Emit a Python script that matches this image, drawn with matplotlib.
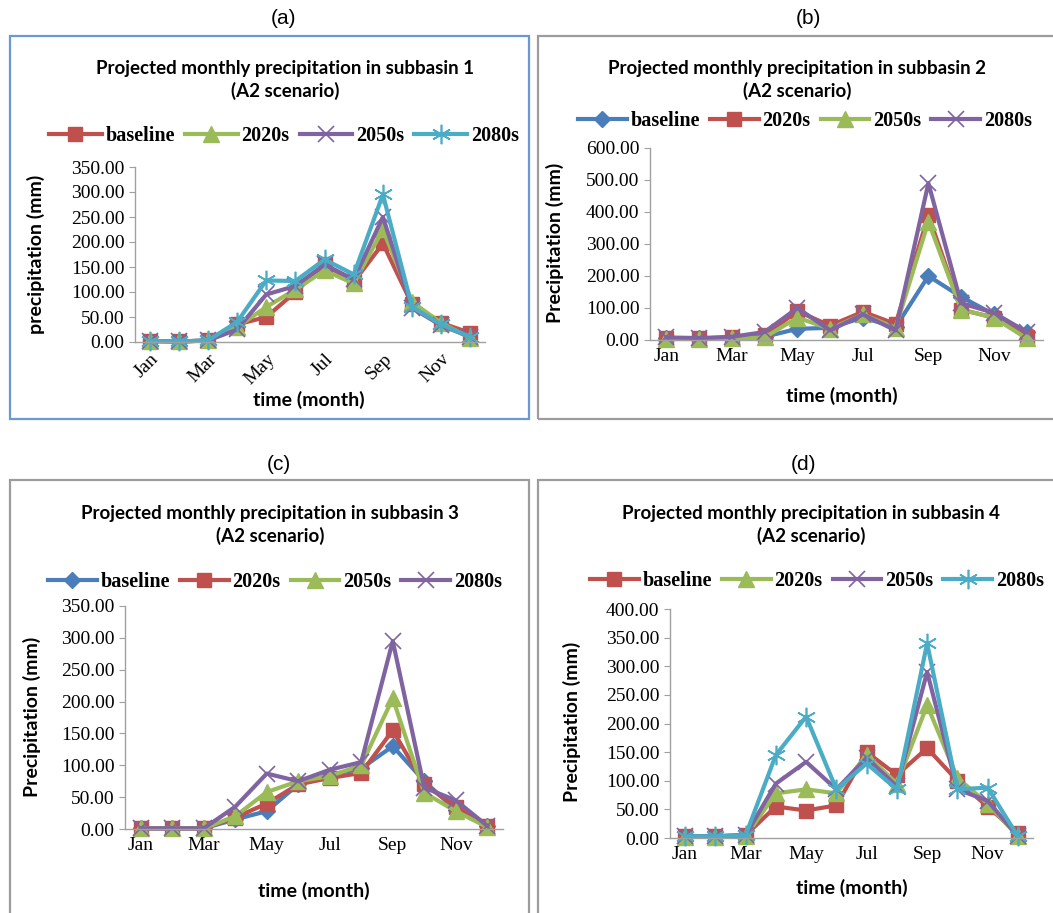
import matplotlib
matplotlib.use("Agg")
import matplotlib.pyplot as plt
from matplotlib.patches import Rectangle
from matplotlib.ticker import FormatStrFormatter

W, H = 1053, 913

MONTHS = ["Jan", "Feb", "Mar", "Apr", "May", "Jun",
          "Jul", "Aug", "Sep", "Oct", "Nov", "Dec"]

# subbasin 1
s1_baseline = [2, 1, 3, 35, 50, 100, 155, 120, 197, 75, 38, 18]
s1_2020s = [2, 1, 3, 30, 70, 105, 143, 117, 225, 80, 38, 8]
s1_2050s = [2, 1, 3, 25, 95, 112, 155, 125, 250, 68, 33, 10]
s1_2080s = [2, 1, 3, 40, 123, 122, 165, 135, 295, 70, 35, 10]

# subbasin 2
s2_baseline = [5, 5, 5, 10, 35, 38, 70, 40, 200, 135, 80, 25]
s2_2020s = [5, 5, 8, 15, 90, 45, 88, 50, 390, 95, 70, 10]
s2_2050s = [3, 3, 5, 8, 70, 35, 80, 38, 370, 95, 70, 5]
s2_2080s = [8, 6, 10, 25, 100, 30, 80, 30, 490, 115, 85, 25]

# subbasin 3
s3_baseline = [1, 1, 1, 15, 28, 70, 85, 95, 130, 75, 30, 5]
s3_2020s = [1, 1, 1, 18, 40, 70, 80, 88, 155, 70, 35, 5]
s3_2050s = [1, 1, 1, 20, 58, 75, 83, 100, 205, 57, 28, 3]
s3_2080s = [1, 1, 1, 35, 87, 75, 93, 105, 295, 65, 45, 5]

# subbasin 4
s4_baseline = [3, 3, 5, 55, 48, 57, 150, 110, 157, 100, 55, 8]
s4_2020s = [2, 2, 3, 78, 85, 78, 145, 95, 232, 105, 60, 3]
s4_2050s = [3, 3, 5, 95, 133, 85, 140, 90, 290, 85, 65, 3]
s4_2080s = [3, 3, 5, 145, 212, 85, 130, 85, 340, 85, 88, 3]

BLUE, RED, GREEN, PURPLE, CYAN = "#4A7EBB", "#C0504D", "#9BBB59", "#8064A2", "#4BACC6"
STAR = (6, 2, 0)

SANS = "Lato"
SERIF = "Liberation Serif"


def fx(x):
    return x / W


def fy(y):
    return 1 - y / H


def box(fig, x0, y0, x1, y1, color):
    r = Rectangle((fx(x0), fy(y1)), fx(x1) - fx(x0), fy(y0) - fy(y1),
                  transform=fig.transFigure, fill=False, edgecolor=color, lw=1.6)
    fig.add_artist(r)


def panel(fig, cfg):
    x0, y0, x1, y1 = cfg["axes"]
    ax = fig.add_axes([fx(x0), fy(y1), fx(x1) - fx(x0), fy(y0) - fy(y1)])
    x = list(range(1, 13))
    handles = []
    for vals, label, color, marker, ms, mew in cfg["series"]:
        h, = ax.plot(x, vals, color=color, lw=3.0, marker=marker, ms=ms,
                     markeredgewidth=mew, label=label, clip_on=False)
        handles.append(h)
    ax.set_xlim(0.5, 12.5)
    ax.set_ylim(0, cfg["ymax"])
    ax.set_yticks(list(range(0, cfg["ymax"] + 1, cfg["ystep"])))
    ax.yaxis.set_major_formatter(FormatStrFormatter("%.2f"))
    ax.set_xticks(x[::2])
    ax.set_xticklabels(MONTHS[::2])
    for s in ["top", "right"]:
        ax.spines[s].set_visible(False)
    for s in ["left", "bottom"]:
        ax.spines[s].set_color("#A0A0A0")
        ax.spines[s].set_linewidth(1.0)
    ax.tick_params(axis="y", colors="#A0A0A0", length=4, labelcolor="black",
                   labelsize=14)
    ax.tick_params(axis="x", length=0, labelsize=14, pad=6)
    for t in ax.get_xticklabels() + ax.get_yticklabels():
        t.set_fontfamily(SERIF)
    if cfg.get("rotate"):
        for t in ax.get_xticklabels():
            t.set_rotation(45)
            t.set_ha("right")
            t.set_va("top")
            t.set_rotation_mode("anchor")

    tx, ty = cfg["title"]
    fig.text(fx(tx), fy(ty), cfg["title_text"], ha="center", va="center",
             fontsize=13.5, fontweight="bold", family=SANS, linespacing=1.35)
    lx, ly = cfg["legend"]
    ax.legend(handles=handles, loc="center", bbox_to_anchor=(fx(lx), fy(ly)),
              bbox_transform=fig.transFigure, ncol=4, frameon=False,
              handlelength=cfg.get("hl", 2.4), columnspacing=0.5, handletextpad=0.2,
              prop={"family": SERIF, "weight": "bold", "size": 14.5})
    xl, yl = cfg["xlabel"]
    fig.text(fx(xl), fy(yl), "time (month)", ha="center", va="center",
             fontsize=14, fontweight="bold", family=SANS)
    yx, yy = cfg["ylabel"]
    fig.text(fx(yx), fy(yy), cfg["ylabel_text"], ha="center", va="center",
             rotation=90, fontsize=14, fontweight="bold", family=SANS)
    return ax


fig = plt.figure(figsize=(W / 100, H / 100), dpi=100)

box(fig, 9.5, 36, 529, 419, "#6A98D4")
box(fig, 538, 36, 1070, 419, "#9C9C9C")
box(fig, 9.5, 480, 529, 930, "#9C9C9C")
box(fig, 538, 480, 1070, 930, "#9C9C9C")

for lab, px, py in [("(a)", 284, 18), ("(b)", 808, 18), ("(c)", 279, 465), ("(d)", 803, 465)]:
    fig.text(fx(px), fy(py), lab, ha="center", va="center", fontsize=15,
             family="Liberation Sans")

panel(fig, {
    "axes": (135, 167, 485, 342),
    "ymax": 350, "ystep": 50, "rotate": True,
    "series": [
        (s1_baseline, "baseline", RED, "s", 10, 1),
        (s1_2020s, "2020s", GREEN, "^", 11, 1),
        (s1_2050s, "2050s", PURPLE, "x", 11, 1.2),
        (s1_2080s, "2080s", CYAN, STAR, 14, 1.2),
    ],
    "title": (285, 80),
    "title_text": "Projected monthly precipitation in subbasin 1\n(A2 scenario)",
    "legend": (284, 136), "hl": 2.6,
    "xlabel": (309, 400),
    "ylabel": (36, 254), "ylabel_text": "precipitation (mm)",
})

panel(fig, {
    "axes": (650, 148, 1043, 340),
    "ymax": 600, "ystep": 100,
    "series": [
        (s2_baseline, "baseline", BLUE, "D", 8, 1),
        (s2_2020s, "2020s", RED, "s", 10, 1),
        (s2_2050s, "2050s", GREEN, "^", 11, 1),
        (s2_2080s, "2080s", PURPLE, "x", 11, 1.2),
    ],
    "title": (797, 80),
    "title_text": "Projected monthly precipitation in subbasin 2\n(A2 scenario)",
    "legend": (805, 121),
    "xlabel": (842, 396),
    "ylabel": (555, 243), "ylabel_text": "Precipitation (mm)",
})

panel(fig, {
    "axes": (125, 606, 503, 829),
    "ymax": 350, "ystep": 50,
    "series": [
        (s3_baseline, "baseline", BLUE, "D", 8, 1),
        (s3_2020s, "2020s", RED, "s", 10, 1),
        (s3_2050s, "2050s", GREEN, "^", 11, 1),
        (s3_2080s, "2080s", PURPLE, "x", 11, 1.2),
    ],
    "title": (270, 525),
    "title_text": "Projected monthly precipitation in subbasin 3\n(A2 scenario)",
    "legend": (275, 582),
    "xlabel": (314, 891),
    "ylabel": (32, 717), "ylabel_text": "Precipitation (mm)",
})

panel(fig, {
    "axes": (670, 609, 1033, 838),
    "ymax": 400, "ystep": 50,
    "series": [
        (s4_baseline, "baseline", RED, "s", 10, 1),
        (s4_2020s, "2020s", GREEN, "^", 11, 1),
        (s4_2050s, "2050s", PURPLE, "x", 11, 1.2),
        (s4_2080s, "2080s", CYAN, STAR, 14, 1.2),
    ],
    "title": (811, 525),
    "title_text": "Projected monthly precipitation in subbasin 4\n(A2 scenario)",
    "legend": (817, 581),
    "xlabel": (852, 888),
    "ylabel": (572, 722), "ylabel_text": "Precipitation (mm)",
})

fig.savefig("out.png", dpi=100)
